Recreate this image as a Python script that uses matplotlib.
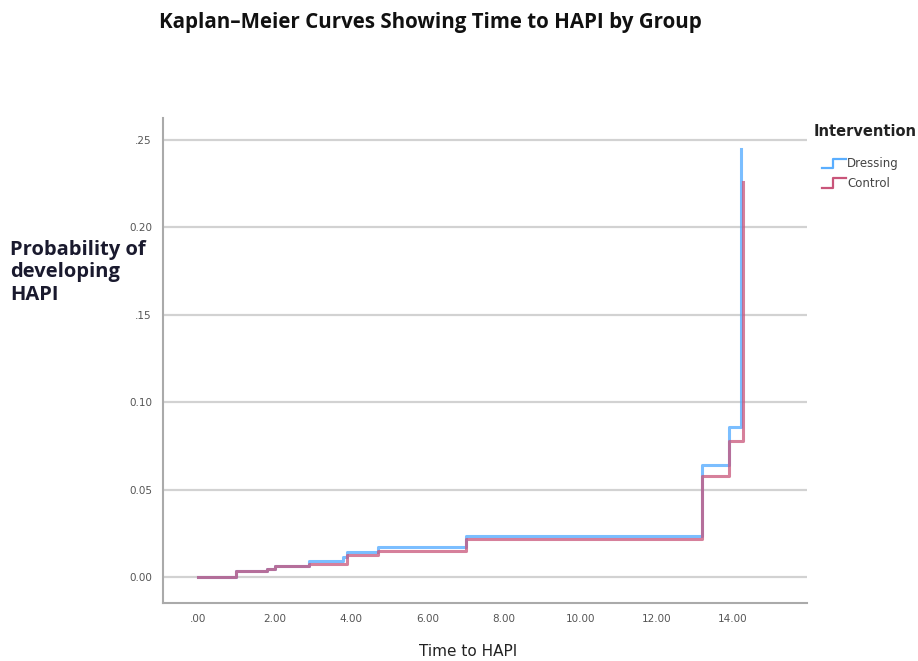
import matplotlib.pyplot as plt
from matplotlib.lines import Line2D

# step times and cumulative probability of HAPI
dressing_t = [0.0, 1.0, 1.8, 2.0, 2.9, 3.8, 3.9, 4.7, 7.0, 13.2, 13.9, 14.22, 14.22]
dressing_p = [0.0, 0.0034, 0.0046, 0.0063, 0.0092, 0.0114, 0.0143, 0.0172, 0.0235, 0.064, 0.086, 0.086, 0.245]

control_t = [0.0, 1.0, 1.8, 2.0, 2.9, 3.9, 4.7, 7.0, 13.2, 13.9, 14.26, 14.26]
control_p = [0.0, 0.0034, 0.0046, 0.0063, 0.0074, 0.0126, 0.015, 0.0217, 0.058, 0.078, 0.078, 0.226]

yticks = [0.0, 0.05, 0.10, 0.15, 0.20, 0.25]
ytick_labels = ["0.00", "0.05", "0.10", ".15", "0.20", ".25"]
xticks = [0, 2, 4, 6, 8, 10, 12, 14]
xtick_labels = [".00", "2.00", "4.00", "6.00", "8.00", "10.00", "12.00", "14.00"]

blue = "#5aaeff"
red = "#c9557a"

fig = plt.figure(figsize=(9.18, 6.61), dpi=100)
ax = fig.add_axes([0.1776, 0.0877, 0.7015, 0.734])

for yv in yticks:
    ax.axhline(yv, color="#d2d2d2", lw=1.6, zorder=0)

ax.step(dressing_t, dressing_p, where="post", color=blue, lw=2.2, alpha=0.8)
ax.step(control_t, control_p, where="post", color=red, lw=2.2, alpha=0.75)

ax.set_xlim(-0.92, 15.94)
ax.set_ylim(-0.0149, 0.2626)
ax.set_yticks(yticks)
ax.set_yticklabels(ytick_labels)
ax.set_xticks(xticks)
ax.set_xticklabels(xtick_labels)
ax.tick_params(length=0, labelsize=7.5, labelcolor="#555555", pad=8)
for s in ["top", "right"]:
    ax.spines[s].set_visible(False)
ax.spines["left"].set_color("#aaaaaa")
ax.spines["bottom"].set_color("#aaaaaa")
ax.spines["left"].set_linewidth(1.5)
ax.spines["bottom"].set_linewidth(1.5)

fig.text(0.51, 1 - 652 / 661, "Time to HAPI", ha="center", va="center",
         fontsize=11, color="#222222")

fig.text(0.469, 0.966, "Kaplan\u2013Meier Curves Showing Time to HAPI by Group",
         ha="center", va="center", fontsize=14.8, fontweight="bold",
         family="Open Sans", color="#111111")

fig.text(0.011, 0.588, "Probability of\ndeveloping\nHAPI", ha="left", va="center",
         fontsize=14.5, fontweight="bold", family="Open Sans",
         color="#1a1a2e", linespacing=1.15)

# legend
fig.text(0.886, 0.801, "Intervention", fontsize=10.5, fontweight="bold",
         color="#222222", va="center", ha="left")
for i, (lab, c) in enumerate([("Dressing", blue), ("Control", red)]):
    yc = 0.753 - i * 0.03
    xs = [0.895, 0.907, 0.907, 0.922]
    ys = [yc - 0.007, yc - 0.007, yc + 0.007, yc + 0.007]
    fig.add_artist(Line2D(xs, ys, transform=fig.transFigure, color=c, lw=1.6))
    fig.text(0.923, yc, lab, fontsize=8.5, color="#444444", va="center", ha="left")

fig.savefig("out.png", dpi=100)
